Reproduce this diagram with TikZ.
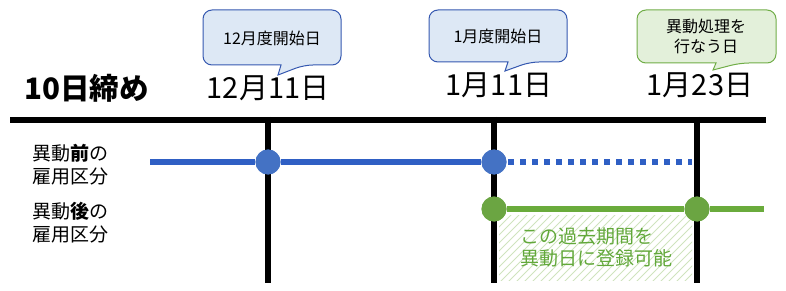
\documentclass[tikz,border=0pt]{standalone}
\usepackage{fontspec}
\setmainfont{Noto Sans CJK JP}
\begin{document}
\begin{tikzpicture}[x=1pt,y=-1pt]
\definecolor{bline}{HTML}{2F5FC4}
\definecolor{bdotc}{HTML}{4472C4}
\definecolor{gline}{HTML}{6AAB3C}
\definecolor{gdotc}{HTML}{6BA542}
\definecolor{gtext}{HTML}{62A83A}
\definecolor{hatchc}{HTML}{CFE3BE}
\definecolor{cbfill}{HTML}{DDE8F5}
\definecolor{cbdraw}{HTML}{3558B0}
\definecolor{cgfill}{HTML}{E3F0DA}
\definecolor{cgdraw}{HTML}{70AD47}
\tikzset{
  axisline/.style={line width=6pt, black},
  bluel/.style={line width=5.5pt, bline},
  bluedot/.style={line width=5.5pt, bline, dash pattern=on 6pt off 6pt},
  greenl/.style={line width=5.5pt, gline},
  bcirc/.style={circle, fill=bdotc, minimum size=25pt, inner sep=0pt},
  gcirc/.style={circle, fill=gdotc, minimum size=25pt, inner sep=0pt},
  datetxt/.style={font=\fontsize{29}{31}\selectfont, inner sep=0pt},
  calltxt/.style={font=\fontsize{16}{20}\selectfont, inner sep=0pt, align=center},
  lbltxt/.style={font=\fontsize{19}{23}\selectfont, inner sep=0pt, align=left, anchor=west},
  gtxt/.style={font=\fontsize{19}{22.5}\selectfont, inner sep=0pt, align=left, anchor=north west, text=gtext},
  hatchl/.style={line width=0.8pt, hatchc},
  callb/.style={fill=cbfill, draw=cbdraw, line width=1pt},
  callg/.style={fill=cgfill, draw=cgdraw, line width=1pt},
}
\useasboundingbox (0,0) rectangle (786,291);

% hatched area
\begin{scope}
\clip (499,215) rectangle (692,280);
\foreach \x in {420,428,...,700} \draw[hatchl] (\x,282) -- ++(70,-70);
\end{scope}

% axis and verticals
\coordinate (axL) at (10,120);
\coordinate (axR) at (766,120);
\coordinate (v1t) at (268,117);
\coordinate (v1b) at (268,283);
\coordinate (v2t) at (494,117);
\coordinate (v2b) at (494,283);
\coordinate (v3t) at (697,117);
\coordinate (v3b) at (697,283);
\draw[axisline] (axL) -- (axR);
\draw[axisline] (v1t) -- (v1b);
\draw[axisline] (v2t) -- (v2b);
\draw[axisline] (v3t) -- (v3b);

% blue line
\coordinate (bS) at (150,162);
\coordinate (bDs) at (508,162);
\coordinate (bE) at (692,162);
\node[bcirc] (b1) at (268,162) {};
\node[bcirc] (b2) at (494,162) {};
\draw[bluel] (bS) -- (b1) -- (b2);
\draw[bluedot] (bDs) -- (bE);
\node[bcirc] at (b1) {};
\node[bcirc] at (b2) {};

% green line
\coordinate (gE) at (764,209);
\node[gcirc] (g1) at (494,209) {};
\node[gcirc] (g2) at (697,209) {};
\draw[greenl] (g1) -- (g2) -- (gE);
\node[gcirc] at (g1) {};
\node[gcirc] at (g2) {};

% green text
\node[gtxt] (gt) at (520,227) {この過去期間を\\異動日に登録可能};

% left labels
\node[font=\bfseries\fontsize{29.5}{31}\selectfont, inner sep=0pt, anchor=west] (shime) at (24,88) {10日締め};
\node[lbltxt] (pre) at (32,165) {異動\textbf{前}の\\雇用区分};
\node[lbltxt] (post) at (32,223) {異動\textbf{後}の\\雇用区分};

% dates
\node[datetxt] (d1) at (268,88) {12月11日};
\node[datetxt] (d2) at (499,85) {1月11日};
\node[datetxt] (d3) at (700,85) {1月23日};

% callouts
\draw[callb, rounded corners=9pt] (281,65) -- (203,65) -- (203,10) -- (341,10) -- (341,65) -- (304,65) [sharp corners] -- (278,75) -- cycle;
\node[calltxt] (c1) at (272,38) {12月度開始日};
\draw[callb, rounded corners=9pt] (508,62) -- (429,62) -- (429,10) -- (567,10) -- (567,62) -- (530,62) [sharp corners] -- (505,71) -- cycle;
\node[calltxt] (c2) at (498,36) {1月度開始日};
\draw[callg, rounded corners=9pt] (716,63) -- (637,63) -- (637,10) -- (776,10) -- (776,63) -- (740,63) [sharp corners] -- (713,70) -- cycle;
\node[calltxt] (c3) at (706,36) {異動処理を\\行なう日};
\end{tikzpicture}
\end{document}
